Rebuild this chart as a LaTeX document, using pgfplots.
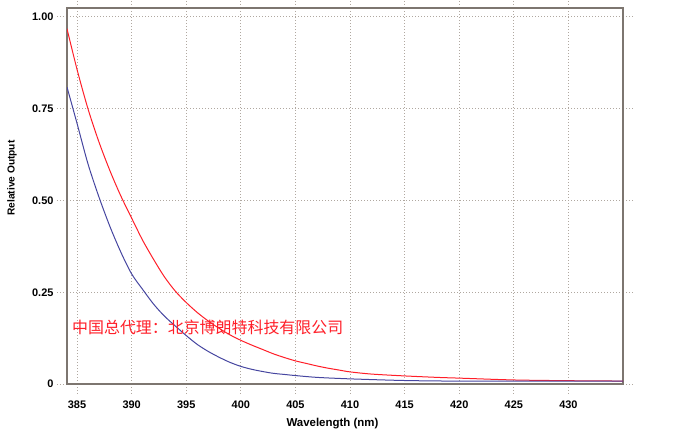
\documentclass[border=0pt]{standalone}
\usepackage{fontspec}
\setmainfont{Liberation Sans}
\newfontfamily\cjk{Noto Sans CJK SC}
\usepackage{pgfplots}
\pgfplotsset{compat=1.18}
\definecolor{gridc}{RGB}{176,168,160}
\definecolor{axc}{RGB}{125,118,112}
\definecolor{redc}{RGB}{255,30,40}
\definecolor{bluec}{RGB}{70,70,160}
\pgfplotstableread{
x y
384.08 0.968
385 0.857
386 0.750
387 0.660
388 0.582
389 0.513
390 0.452
391 0.392
392 0.340
393 0.292
394 0.253
395 0.222
396 0.195
397 0.172
398 0.152
399 0.134
400 0.119
401 0.106
402 0.094
403 0.082
404 0.072
405 0.063
406 0.056
407 0.049
408 0.043
409 0.038
410 0.033
412 0.027
415 0.022
418 0.018
420 0.016
425 0.011
430 0.009
435 0.008
}\redtab
\pgfplotstableread{
x y
384.08 0.809
385 0.710
386 0.600
387 0.510
388 0.430
389 0.360
390 0.300
391 0.258
392 0.218
393 0.185
394 0.158
395 0.132
396 0.108
397 0.089
398 0.073
399 0.059
400 0.048
401 0.040
402 0.034
403 0.029
404 0.026
405 0.023
407 0.018
410 0.014
415 0.0095
420 0.0078
425 0.0076
430 0.008
435 0.008
}\bluetab
\begin{document}
\begin{tikzpicture}
\useasboundingbox (0,0) rectangle (700bp,434bp);
\begin{axis}[
  at={(67bp,50bp)}, anchor=south west,
  scale only axis, width=556bp, height=376bp,
  xmin=384.08, xmax=435, ymin=0, ymax=1.0245,
  xtick={385,390,...,430},
  ytick={0,0.25,0.5,0.75,1},
  yticklabels={0,0.25,0.50,0.75,1.00},
  /pgf/number format/assume math mode=true,
  /pgf/number format/1000 sep={},
  ticklabel style={font=\fontsize{11}{13}\selectfont\bfseries},
  xticklabel style={yshift=-3bp},
  grid=major,
  grid style={gridc, line width=1bp, dash pattern=on 1bp off 2bp},
  tick align=outside,
  major tick length=10bp,
  tick style={gridc, line width=1bp, dash pattern=on 1bp off 2bp},
  axis line style={axc, line width=1.2bp},
  xlabel={Wavelength (nm)},
  ylabel={Relative Output},
  xlabel style={font=\fontsize{11.5}{13}\selectfont\bfseries, at={(axis description cs:0.4775,-0.1064)}, anchor=center},
  ylabel style={font=\fontsize{10.2}{12}\selectfont\bfseries, at={(axis description cs:-0.099,0.548)}, anchor=center},
]
\addplot[redc, line width=1bp, smooth] table[x=x,y=y] {\redtab};
\addplot[bluec, line width=1bp, smooth] table[x=x,y=y] {\bluetab};
\node[anchor=west, text=redc, font=\cjk\fontsize{16}{16}\selectfont, inner sep=0pt] at (axis cs:384.54,0.155) {中国总代理：北京博朗特科技有限公司};
\end{axis}
\end{tikzpicture}
\end{document}
